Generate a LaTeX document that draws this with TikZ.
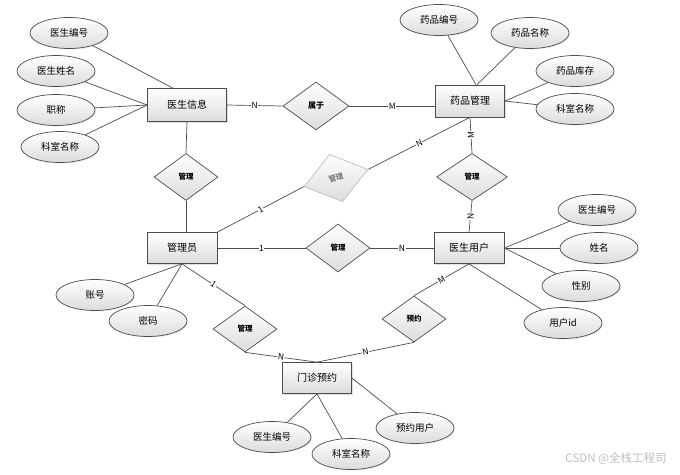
\documentclass[tikz,border=0pt]{standalone}
\usepackage{fontspec}
\setmainfont{Noto Sans CJK SC}
\usetikzlibrary{shapes.geometric, shadows}
\definecolor{LineGray}{RGB}{77, 77, 77}
\definecolor{FillGray}{RGB}{220, 220, 220}
\definecolor{MarkGray}{RGB}{190, 190, 190}

\begin{document}
\begin{tikzpicture}[x=1pt, y=-1pt, line width=0.7pt,
    entity/.style={draw=LineGray, rectangle, top color=white, bottom color=FillGray,
        minimum width=70, minimum height=31, inner sep=0,
        drop shadow={opacity=0.25, shadow xshift=1.2pt, shadow yshift=-1.2pt},
        font=\fontsize{10}{12}\selectfont},
    attr/.style={draw=LineGray, ellipse, top color=white, bottom color=FillGray,
        minimum width=78, minimum height=31, inner sep=0,
        drop shadow={opacity=0.15, shadow xshift=1pt, shadow yshift=-1pt},
        font=\fontsize{9.5}{11}\selectfont},
    rel/.style={draw=LineGray, diamond, top color=white, bottom color=FillGray,
        minimum width=64, minimum height=47, inner sep=0,
        font=\bfseries\fontsize{7.5}{9}\selectfont},
    card/.style={fill=white, inner sep=0.6pt, font=\fontsize{8.5}{9}\selectfont},
    link/.style={draw=LineGray}]
    \fill[white] (0,0) rectangle (680,474);
    \useasboundingbox (0,0) rectangle (680,474);

    % entities
    \node[entity, minimum width=79, minimum height=33] (docinfo) at (187,105) {医生信息};
    \node[entity, minimum width=69, minimum height=32] (drug) at (470,101) {药品管理};
    \node[entity] (admin) at (182,248) {管理员};
    \node[entity] (docuser) at (469,248) {医生用户};
    \node[entity, minimum width=69] (appt) at (317,378) {门诊预约};

    % relationships
    \node[rel, minimum width=66, minimum height=48, font=\bfseries\fontsize{8}{9}\selectfont] (belong) at (316,106) {属于};
    \node[rel] (mgrdoc) at (186,177) {管理};
    \node[rel, draw=MarkGray, text=gray, rotate=15, minimum width=66, minimum height=49] (mgrdrug) at (336,178) {管理};
    \node[rel, minimum width=71] (mgrstock) at (472,177) {管理};
    \node[rel, minimum height=48] (mgruser) at (338,248) {管理};
    \node[rel, minimum height=46] (mgrappt) at (245,329) {管理};
    \node[rel, minimum height=46] (book) at (414,319) {预约};

    % attributes of 医生信息
    \node[attr] (docid) at (69,33) {医生编号};
    \node[attr] (docname) at (56,71) {医生姓名};
    \node[attr] (doctitle) at (56,110) {职称};
    \node[attr] (docdept) at (60,147) {科室名称};

    % attributes of 药品管理
    \node[attr] (drugid) at (439,20) {药品编号};
    \node[attr] (drugname) at (530,33) {药品名称};
    \node[attr] (drugstock) at (575,71) {药品库存};
    \node[attr] (drugdept) at (575,109) {科室名称};

    % attributes of 医生用户
    \node[attr] (userdoc) at (597,210) {医生编号};
    \node[attr] (username) at (599,248) {姓名};
    \node[attr] (usersex) at (581,286) {性别};
    \node[attr] (userid) at (563,323) {用户id};

    % attributes of 管理员
    \node[attr] (account) at (95,295) {账号};
    \node[attr] (passwd) at (148,321) {密码};

    % attributes of 门诊预约
    \node[attr] (apptdoc) at (272,437) {医生编号};
    \node[attr] (apptdept) at (351,454) {科室名称};
    \node[attr] (apptuser) at (415,428) {预约用户};

    % attribute links
    \draw[link] (docid) -- (docinfo.130);
    \draw[link] (docname) -- (docinfo.west);
    \draw[link] (doctitle) -- (docinfo.west);
    \draw[link] (docdept) -- (docinfo.west);
    \draw[link] (drugid) -- ([xshift=6]drug.north);
    \draw[link] (drugname) -- ([xshift=7]drug.north);
    \draw[link] (drugstock) -- (drug.east);
    \draw[link] (drugdept) -- (drug.east);
    \draw[link] (userdoc) -- (docuser.east);
    \draw[link] (username) -- (docuser.east);
    \draw[link] (usersex) -- (docuser.east);
    \draw[link] (userid) -- (docuser.south);
    \draw[link] (account) -- (admin.south);
    \draw[link] (passwd) -- (admin.south);
    \draw[link] (apptdoc) -- (appt.south);
    \draw[link] (apptdept) -- (appt.south);
    \draw[link] (apptuser) -- (appt.east);

    % relationship links
    \draw[link] (docinfo.east) -- node[card] {N} (belong.west);
    \draw[link] (belong.east) -- node[card] {M} (belong.east -| drug.west);
    \draw[link] (docinfo.south) -- (mgrdoc.north);
    \draw[link] (mgrdoc.south) -- (mgrdoc.south |- admin.north);
    \draw[link] (admin.north east) -- node[card, sloped] {1} (mgrdrug.west);
    \draw[link] (mgrdrug.east) -- node[card, sloped] {N} (drug.south);
    \draw[link] (drug.south) -- node[card, rotate=90] {M} (mgrstock.north);
    \draw[link] (mgrstock.south) -- node[card, rotate=90] {N} (docuser.north);
    \draw[link] (admin.east) -- node[card] {1} (mgruser.west);
    \draw[link] (mgruser.east) -- node[card] {N} (docuser.west);
    \draw[link] (admin.south) -- node[card, sloped] {1} (mgrappt.north);
    \draw[link] (mgrappt.south) -- node[card, sloped] {N} (appt.north);
    \draw[link] (docuser.south) -- node[card, sloped] {M} (book.north);
    \draw[link] (book.south) -- node[card, sloped] {N} (appt.north);

    \node[text=MarkGray, font=\fontsize{11.5}{13}\selectfont] (mark) at (616,459) {CSDN @全栈工程司};
\end{tikzpicture}
\end{document}
